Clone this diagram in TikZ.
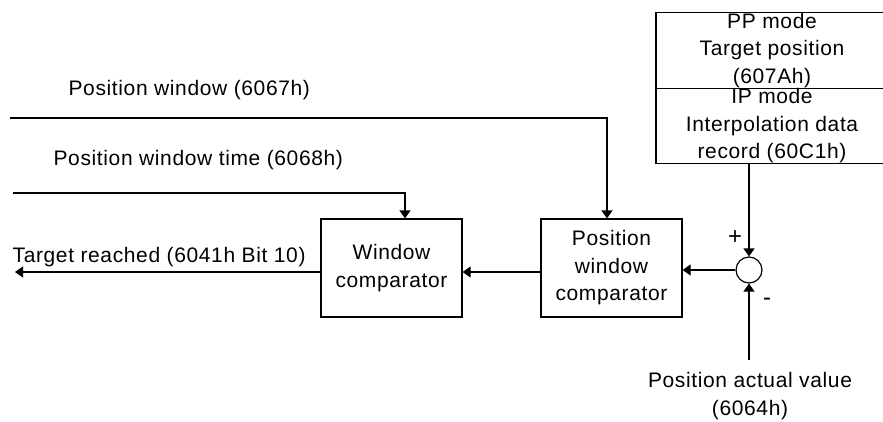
\documentclass[tikz,border=0pt]{standalone}
\usepackage{fontspec}
\setmainfont[LetterSpace=3]{Liberation Sans}
\usetikzlibrary{arrows.meta}
\begin{document}
\begin{tikzpicture}[x=1pt,y=-1pt,
  line width=1.2pt,
  >={Triangle[length=8pt,width=11pt]},
  every node/.style={font=\fontsize{21}{27.5}\selectfont, inner sep=0pt},
  blockbox/.style={draw, minimum width=141pt, minimum height=98pt, align=center},
  modebox/.style={draw, minimum width=232pt, minimum height=75.5pt, align=center},
  lbl/.style={anchor=west},
  sign/.style={font=\fontsize{24}{27}\selectfont},
]
\clip (0,0) rectangle (883,421);
\node[blockbox] (wc) at (391.5,268) {Window\\comparator};
\node[blockbox] (pwc) at (611.5,268) {Position\\window\\comparator};
\node[modebox] (pp) at (772,50.5) {PP mode\\Target position\\(607Ah)};
\node[modebox] (ip) at (772,126) {IP mode\\Interpolation data\\record (60C1h)};
\node[draw, circle, minimum size=26pt] (sum) at (749,270) {};

\coordinate (pwin) at (10,118);
\coordinate (ptime) at (13,193);
\coordinate (tr) at (15,272);
\coordinate (pav) at (749,360);

\draw[->] (pwin) -| ([xshift=-4.5pt]pwc.north);
\draw[->] (ptime) -| ([xshift=13.5pt]wc.north);
\draw[->] (pwc.west |- tr) -- (wc.east |- tr);
\draw[->] (wc.west |- tr) -- (tr);
\draw[->] (sum.west) -- (sum.west -| pwc.east);
\draw[->] (ip.south -| sum) -- (sum.north);
\draw[->] (pav) -- (sum.south);

\node[lbl] (lpw) at (68,90) {Position window (6067h)};
\node[lbl] (lpwt) at (53,160) {Position window time (6068h)};
\node[lbl] (ltr) at (12,257) {Target reached (6041h Bit 10)};
\node[sign] (plus) at (735,238) {+};
\node[sign] (minus) at (767,302) {-};
\node[align=center] (lpav) at (750,396) {Position actual value\\(6064h)};
\end{tikzpicture}
\end{document}
